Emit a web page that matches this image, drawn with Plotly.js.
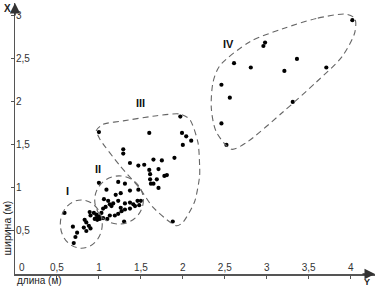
<!DOCTYPE html>
<html><head><meta charset="utf-8">
<script src="https://cdn.plot.ly/plotly-3.0.1.min.js"></script>
<style>html,body{margin:0;padding:0;background:#fff}#c{width:379px;height:288px}</style>
</head><body><div id="c"></div>
<script>
// Cluster I
const c1x = [0.59,0.69,0.74,0.72,0.70,0.83,0.85,0.82,0.88,0.90,0.85,0.89,0.90,0.94,0.95,0.97,1.00,0.98,1.01,0.97];
const c1y = [0.71,0.55,0.48,0.43,0.36,0.63,0.60,0.54,0.56,0.53,0.50,0.72,0.68,0.71,0.64,0.65,0.67,0.63,0.64,0.69];
// Cluster II
const c2x = [1.00,1.09,1.23,1.31,1.37,1.26,1.20,1.47,1.06,1.11,1.13,1.17,1.23,1.15,1.08,1.05,1.31,1.37,1.41,1.46,1.50,1.48,1.43,1.37,1.31,1.27,1.23,1.26,1.19,1.13,1.10,1.05,1.03,1.30];
const c2y = [1.06,0.98,1.07,1.05,0.97,0.94,0.92,0.98,0.87,0.85,0.81,0.82,0.85,0.79,0.78,0.76,0.82,0.83,0.81,0.85,0.85,0.80,0.79,0.76,0.75,0.73,0.70,0.77,0.68,0.68,0.64,0.65,0.71,0.61];
// Cluster III
const c3x = [1.00,1.97,1.60,1.99,2.04,2.10,2.00,1.29,1.29,1.90,1.65,1.75,1.37,1.47,1.54,1.60,1.71,1.61,1.81,1.78,1.61,1.69,1.62,1.65,1.71,1.88];
const c3y = [1.65,1.83,1.64,1.64,1.60,1.55,1.50,1.45,1.40,1.35,1.33,1.32,1.29,1.26,1.27,1.21,1.22,1.16,1.15,1.14,1.10,1.10,1.05,1.05,1.00,0.61];
// Cluster IV
const c4x = [4.02,2.98,2.96,2.61,2.81,3.36,3.21,3.71,2.46,2.56,3.31,2.46,2.52];
const c4y = [2.95,2.69,2.65,2.45,2.40,2.50,2.36,2.40,2.20,2.05,2.00,1.75,1.50];

// Cluster outlines
const ell1 = [0.54, 0.30, 1.04, 0.86];   // x0, y0, x1, y1
const ell2 = [0.95, 0.58, 1.53, 1.14];
const b3x = [0.97,1.05,1.29,1.69,1.96,2.08,2.18,2.20,2.20,2.14,2.00,1.93,1.85,1.64,1.49,1.25,1.01,0.97];
const b3y = [1.67,1.74,1.78,1.84,1.86,1.80,1.53,1.26,1.14,0.84,0.60,0.56,0.60,0.78,0.99,1.26,1.57,1.67];
const b4x = [3.95,3.59,3.19,2.80,2.44,2.36,2.34,2.40,2.58,2.76,3.19,3.59,3.90,4.05,4.05,3.95];
const b4y = [3.02,2.97,2.85,2.70,2.42,2.23,1.92,1.65,1.45,1.53,1.88,2.23,2.53,2.81,2.97,3.02];

const labels = ['I','II','III','IV'];
const labelX = [0.62,0.99,1.49,2.55];
const labelY = [0.96,1.22,1.99,2.67];

const xTicks = [0.5,1,1.5,2,2.5,3,3.5,4];
const yTicks = [0.5,1,1.5,2,2.5,3];

const dot = {size:4.2, color:'#000'};
const traces = [
  {x:c1x,y:c1y,mode:'markers',type:'scatter',marker:dot,hoverinfo:'skip'},
  {x:c2x,y:c2y,mode:'markers',type:'scatter',marker:dot,hoverinfo:'skip'},
  {x:c3x,y:c3y,mode:'markers',type:'scatter',marker:dot,hoverinfo:'skip'},
  {x:c4x,y:c4y,mode:'markers',type:'scatter',marker:dot,hoverinfo:'skip'},
  {x:b3x,y:b3y,mode:'lines',type:'scatter',line:{color:'#666',width:1.1,dash:'6px,4px',shape:'spline',smoothing:0.7},hoverinfo:'skip'},
  {x:b4x,y:b4y,mode:'lines',type:'scatter',line:{color:'#666',width:1.1,dash:'6px,4px',shape:'spline',smoothing:0.8},hoverinfo:'skip'}
];

const ellShape = e => ({type:'circle',xref:'x',yref:'y',x0:e[0],y0:e[1],x1:e[2],y1:e[3],
  line:{color:'#666',width:1.1,dash:'6px,4px'}});

const font = {family:'Liberation Sans, Arial, sans-serif', size:10, color:'#333'};
const ann = labels.map((t,i)=>({x:labelX[i],y:labelY[i],xref:'x',yref:'y',text:'<b>'+t+'</b>',
  showarrow:false,font:{family:font.family,size:11,color:'#111'}}));
ann.push(
  {x:1,y:0,xref:'paper',yref:'paper',ax:-14,ay:0,axref:'pixel',ayref:'pixel',text:'',showarrow:true,arrowhead:2,arrowsize:1.4,arrowwidth:1.5,arrowcolor:'#333'},
  {x:0,y:1,xref:'paper',yref:'paper',ax:0,ay:14,axref:'pixel',ayref:'pixel',text:'',showarrow:true,arrowhead:2,arrowsize:1.4,arrowwidth:1.5,arrowcolor:'#333'},
  {x:0,y:1,xref:'paper',yref:'paper',xanchor:'center',yanchor:'middle',xshift:-8,yshift:-5,text:'<b>X</b>',showarrow:false,font:{family:font.family,size:10,color:'#222'}},
  {x:1,y:0,xref:'paper',yref:'paper',xanchor:'center',xshift:-8,yshift:-2,yanchor:'top',borderpad:0,text:'<b>Y</b>',showarrow:false,font:{family:font.family,size:9,color:'#222'}},
  {x:0,y:0,xref:'paper',yref:'paper',xshift:2,yshift:7,xanchor:'left',yanchor:'middle',text:'0',showarrow:false,font:font},
  {x:0,y:0,xref:'paper',yref:'paper',xshift:1,yshift:0,xanchor:'left',yanchor:'top',borderpad:0,text:'длина (м)',showarrow:false,font:{family:font.family,size:10,color:'#222'}},
  {x:0,y:0.53,xref:'paper',yref:'y',xanchor:'center',yanchor:'middle',xshift:-8,textangle:-90,text:'ширина (м)',showarrow:false,font:{family:font.family,size:10.5,color:'#222'}}
);

const layout = {
  width:379,height:288,
  margin:{l:15,r:4,t:3,b:14},
  paper_bgcolor:'#fff',plot_bgcolor:'#fff',
  showlegend:false,
  separators:',.',
  font:font,
  xaxis:{range:[0,4.29],showgrid:false,zeroline:false,showline:true,linecolor:'#555',linewidth:1.5,
    tickvals:xTicks,ticks:'outside',ticklen:3,tickcolor:'#555',ticklabelposition:'inside',tickfont:font},
  yaxis:{range:[0,3.15],showgrid:false,zeroline:false,showline:true,linecolor:'#555',linewidth:1.5,
    tickvals:yTicks,ticks:'outside',ticklen:3,tickcolor:'#555',ticklabelposition:'inside',tickfont:font},
  shapes:[ellShape(ell1),ellShape(ell2)],
  annotations:ann
};
Plotly.newPlot('c',traces,layout,{staticPlot:true,displayModeBar:false});
</script></body></html>
